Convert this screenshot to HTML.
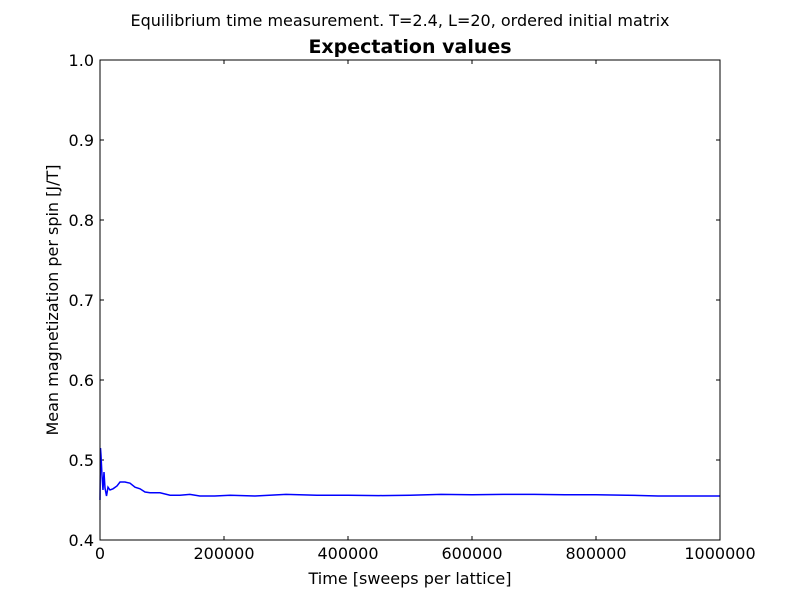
<!DOCTYPE html>
<html><head><meta charset="utf-8"><style>
body{margin:0;background:#fff;}
svg text{font-family:"DejaVu Sans","Liberation Sans",sans-serif;}
</style></head><body>
<svg id="chart" width="800" height="600">
<rect width="800" height="600" fill="#fff"/>
<text x="400" y="26" font-size="16" text-anchor="middle">Equilibrium time measurement. T=2.4, L=20, ordered initial matrix</text>
<text x="410" y="53" font-size="19" font-weight="bold" text-anchor="middle">Expectation values</text>
<g id="ticks"></g>
<polyline id="line" fill="none" stroke="#0000ff" stroke-width="1.5"/>
<rect x="100" y="60" width="620" height="480" fill="none" stroke="#000" stroke-width="1"/>
<text x="410" y="584" font-size="16" text-anchor="middle">Time [sweeps per lattice]</text>
<text transform="translate(58,300) rotate(-90)" font-size="16" text-anchor="middle">Mean magnetization per spin [J/T]</text>
</svg>
<script>
const times=[0,800,1600,3200,4800,6450,8060,10500,12900,16100,21000,27400,32300,40300,48400,56500,64500,72600,80600,96800,113000,129000,145000,161000,185000,210000,250000,300000,350000,400000,450000,500000,550000,600000,650000,700000,750000,800000,850000,900000,950000,1000000];
const magnet=[0.45,0.515,0.506,0.481,0.4625,0.485,0.465,0.455,0.466,0.4625,0.464,0.4675,0.4725,0.4725,0.471,0.466,0.464,0.46,0.459,0.459,0.456,0.456,0.457,0.455,0.455,0.456,0.455,0.457,0.456,0.456,0.4555,0.456,0.457,0.4565,0.457,0.457,0.4565,0.4565,0.456,0.455,0.455,0.455];
const xTicks=[0,200000,400000,600000,800000,1000000];
const yTicks=[0.4,0.5,0.6,0.7,0.8,0.9,1.0];
const xs=v=>100+v/1e6*620, ys=v=>540-(v-0.4)/0.6*480;
const ns="http://www.w3.org/2000/svg", g=document.getElementById('ticks');
function mk(t,a){const e=document.createElementNS(ns,t);for(const k in a)e.setAttribute(k,a[k]);g.appendChild(e);return e;}
xTicks.forEach(v=>{const x=xs(v);
 let l=mk('line',{x1:x,x2:x,y1:540,y2:536,stroke:'#000'});
 
 
 let l2=mk('line',{x1:x,x2:x,y1:60,y2:64,stroke:'#000'});
 
 
 let t=mk('text',{x:x,y:559,'font-size':16,'text-anchor':'middle'});t.textContent=v;
 
 });
yTicks.forEach(v=>{const y=ys(v);
 let l=mk('line',{x1:100,x2:104,y1:y,y2:y,stroke:'#000'});
 
 
 let l2=mk('line',{x1:716,x2:720,y1:y,y2:y,stroke:'#000'});
 
 
 let t=mk('text',{x:94,y:y+6,'font-size':16,'text-anchor':'end'});t.textContent=v.toFixed(1);
 
 });
document.getElementById('line').setAttribute('points',times.map((t,i)=>xs(t)+','+ys(magnet[i])).join(' '));
</script>
</body></html>
